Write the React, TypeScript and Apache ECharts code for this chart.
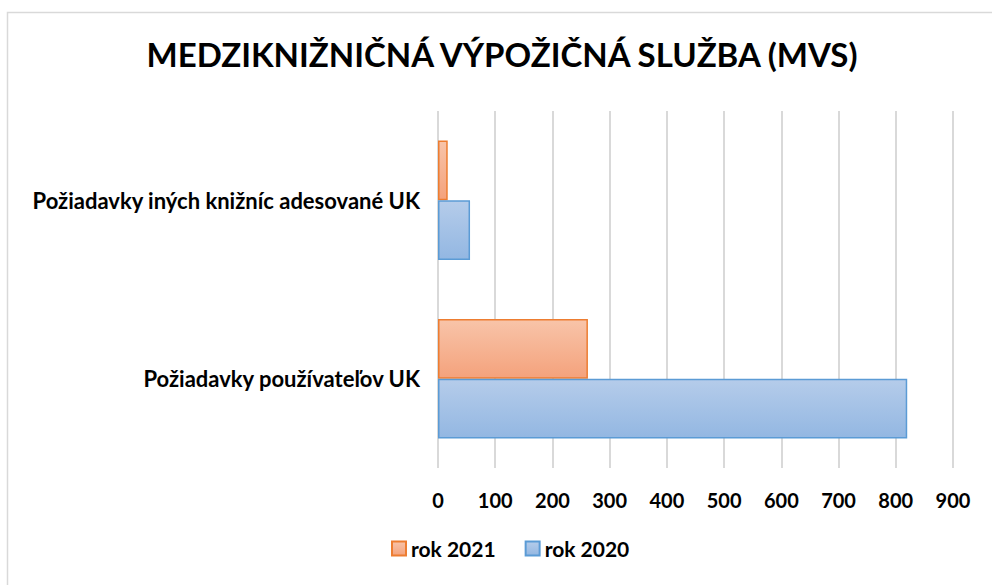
import React, { useEffect, useRef } from "react";
import * as echarts from "echarts";

const categories = ["Požiadavky používateľov UK", "Požiadavky iných knižníc adesované UK"];
const values2020 = [820, 56];
const values2021 = [262, 17];
const xTicks = { min: 0, max: 900, interval: 100 };
const titleText = "MEDZIKNIŽNIČNÁ VÝPOŽIČNÁ SLUŽBA (MVS)";
const seriesNames = ["rok 2021", "rok 2020"];

const FONT = "Lato";

export default function App() {
  const ref = useRef<HTMLDivElement>(null);
  useEffect(() => {
    if (!ref.current) return;
    const chart = echarts.init(ref.current, null, { renderer: "svg" });
    const grad = (a: string, b: string) =>
      new echarts.graphic.LinearGradient(0, 0, 0, 1, [
        { offset: 0, color: a },
        { offset: 1, color: b },
      ]);
    chart.setOption({
      animation: false,
      backgroundColor: "#fff",
      textStyle: { fontFamily: FONT },
      graphic: [
        {
          type: "rect",
          shape: { x: 7.5, y: 12.5, width: 1000, height: 600 },
          style: { fill: "none", stroke: "#d9d9d9", lineWidth: 1.5 },
          silent: true,
        },
        {
          type: "text",
          x: 502,
          y: 54,
          style: {
            text: titleText,
            font: `bold 33px ${FONT}`,
            fill: "#000",
            textAlign: "center",
            textVerticalAlign: "middle",
          },
        },
      ],
      grid: { left: 438, right: 39, top: 111, bottom: 117, containLabel: false },
      legend: {
        data: seriesNames,
        bottom: 21,
        left: 386,
        itemWidth: 14,
        itemHeight: 14,
        itemGap: 29,
        icon: "rect",
        textStyle: { fontFamily: FONT, fontWeight: "bold", fontSize: 21, color: "#000" },
      },
      xAxis: {
        type: "value",
        min: xTicks.min,
        max: xTicks.max,
        interval: xTicks.interval,
        axisLine: { show: false },
        axisTick: { show: false },
        axisLabel: { fontFamily: FONT, fontWeight: "bold", fontSize: 20, color: "#000", margin: 22 },
        splitLine: { lineStyle: { color: "#d9d9d9", width: 2 } },
      },
      yAxis: {
        type: "category",
        data: categories,
        axisLine: { show: false },
        axisTick: { show: false },
        axisLabel: { fontFamily: FONT, fontWeight: "bold", fontSize: 22, color: "#000", margin: 18 },
      },
      series: [
        {
          name: "rok 2021",
          type: "bar",
          data: values2021,
          barCategoryGap: "33%",
          barGap: "0%",
          itemStyle: { color: grad("#f8c4a9", "#f4a27c"), borderColor: "#ed7d31", borderWidth: 1.5 },
        },
        {
          name: "rok 2020",
          type: "bar",
          data: values2020,
          barCategoryGap: "33%",
          barGap: "0%",
          itemStyle: { color: grad("#b5ccea", "#93b7e2"), borderColor: "#5b9bd5", borderWidth: 1.5 },
        },
      ],
    });
    return () => chart.dispose();
  }, []);
  return (
    <div
      ref={ref}
      style={{ position: "absolute", left: 0, top: 0, width: 992, height: 585, overflow: "hidden" }}
    />
  );
}
